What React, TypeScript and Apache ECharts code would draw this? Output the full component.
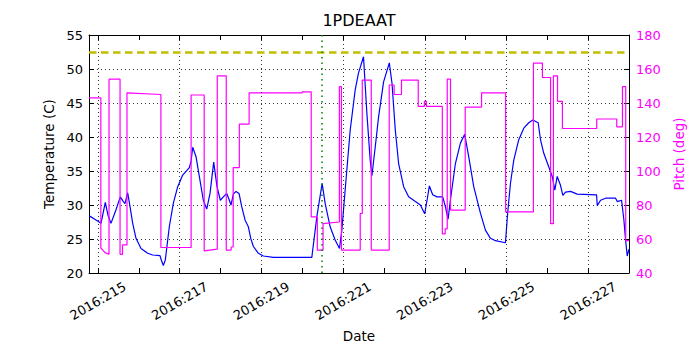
import React, { useEffect, useRef } from "react";
import * as echarts from "echarts";

const tempDays = [214.787, 214.951, 215.074, 215.179, 215.245, 215.318, 215.441, 215.546, 215.62, 215.661,
  215.727, 215.784, 215.85, 215.931, 216.053, 216.217, 216.34, 216.518, 216.55, 216.6,
  216.648, 216.746, 216.844, 216.952, 217.074, 217.236, 217.278, 217.319, 217.4, 217.481,
  217.579, 217.662, 217.743, 217.833, 217.914, 217.995, 218.069, 218.152, 218.216, 218.257,
  218.314, 218.38, 218.453, 218.519, 218.6, 218.681, 218.74, 218.804, 218.926, 219.049,
  219.294, 220.235, 220.358, 220.488, 220.561, 220.684, 220.806, 220.912, 220.97, 221.051,
  221.174, 221.296, 221.377, 221.5, 221.583, 221.664, 221.706, 221.789, 221.87, 221.992,
  222.132, 222.198, 222.279, 222.36, 222.483, 222.605, 222.77, 222.892, 222.998, 223.056,
  223.113, 223.194, 223.301, 223.439, 223.505, 223.571, 223.627, 223.75, 223.873, 223.978,
  224.076, 224.199, 224.363, 224.485, 224.608, 224.73, 224.975, 225.032, 225.098, 225.179,
  225.301, 225.424, 225.546, 225.644, 225.777, 225.833, 225.914, 226.037, 226.12, 226.184,
  226.242, 226.323, 226.38, 226.446, 226.569, 226.733, 227.206, 227.223, 227.304, 227.426,
  227.671, 227.712, 227.818, 227.875, 227.916, 227.957, 228.0];

const tempValues = [28.4, 27.8, 27.3, 30.4, 28.5, 27.3, 29.3, 31.2, 30.5, 30.2,
  31.8, 29.75, 27.3, 25.1, 23.6, 22.9, 22.65, 22.55, 21.9, 21.1,
  21.9, 26.8, 30.25, 32.7, 34.4, 35.5, 36.4, 38.5, 37.1, 34.2,
  30.7, 29.4, 31.7, 36.3, 32.7, 30.7, 31.2, 31.7, 30.7, 30.0,
  31.6, 32.0, 31.7, 29.75, 27.8, 26.8, 25.1, 23.9, 22.9, 22.5,
  22.3, 22.3, 28.3, 33.2, 30.25, 26.8, 24.85, 23.6, 26.3, 32.2,
  41, 46.9, 49.4, 51.8, 43.5, 36.6, 34.3, 38.6, 43, 48.1,
  50.9, 47.9, 41, 36.1, 32.7, 31.2, 30.5, 30.0, 28.7, 30.7,
  32.8, 31.5, 31.2, 31.2, 29.75, 27.9, 30.7, 36.1, 39.1, 40.4,
  37.1, 32.7, 28.8, 26.3, 25.1, 24.75, 24.45, 29, 33.2, 36.6,
  39.6, 41.3, 42.1, 42.5, 42.1, 39.6, 37.6, 35.6, 34.2, 32.2,
  34.2, 32.9, 31.4, 31.9, 32.0, 31.6, 31.5, 29.9, 30.7, 31.0,
  31.0, 30.5, 30.7, 27.8, 24.85, 22.5, 23.5];

const pitchDays = [214.78, 215.07, 215.07, 215.12, 215.17, 215.27, 215.27, 215.54, 215.54, 215.6,
  215.6, 215.71, 215.71, 216.54, 216.54, 217.28, 217.28, 217.6, 217.6, 217.92,
  217.92, 218.14, 218.14, 218.26, 218.26, 218.31, 218.31, 218.46, 218.46, 218.7,
  218.7, 220.0, 220.0, 220.22, 220.22, 220.37, 220.37, 220.51, 220.51, 220.91,
  220.91, 220.96, 220.96, 221.42, 221.42, 221.47, 221.47, 221.69, 221.69, 222.13,
  222.13, 222.25, 222.25, 222.43, 222.43, 222.84, 222.84, 222.99, 222.99, 223.04,
  223.04, 223.43, 223.43, 223.5, 223.5, 223.55, 223.55, 223.63, 223.63, 223.99,
  223.99, 224.39, 224.39, 224.98, 224.98, 225.66, 225.66, 225.88, 225.88, 226.08,
  226.08, 226.15, 226.15, 226.25, 226.25, 226.37, 226.37, 227.21, 227.21, 227.7,
  227.7, 227.84, 227.84, 227.92, 227.92, 228.0];

const pitchValues = [143, 143, 54.7, 53.5, 52, 51, 154, 154, 51, 51,
  56.5, 56.5, 146, 145, 55, 55, 144.7, 144.7, 53, 54,
  156, 156, 53.5, 53.5, 55.3, 55.3, 102, 102, 127.6, 127.6,
  146, 146, 146.6, 146.6, 73, 73, 53.5, 53.5, 69, 70,
  149.6, 149.6, 53.5, 53.5, 75, 75, 153.5, 153.5, 53.5, 53.5,
  150.6, 150.6, 145, 145, 153.5, 153.5, 138, 138, 141, 141,
  138, 138, 63, 63, 66, 66, 154, 154, 77, 77,
  137.6, 137.6, 146, 146, 76, 76, 163.5, 163.5, 155, 155,
  69, 69, 156, 156, 141, 141, 125, 125, 130.6, 130.6,
  126, 126, 149.6, 149.6, 59, 59];

const tickDays = [215, 216, 217, 218, 219, 220, 221, 222, 223, 224, 225, 226, 227, 228];
const labelDays = [215, 217, 219, 221, 223, 225, 227];
const xMin = 214.78;
const xMax = 228.0;
const tempLimit = 52.5;
const eventDay = 220.49;

const FONT = "DejaVu Sans";

export default function App() {
  const ref = useRef<HTMLDivElement>(null);
  useEffect(() => {
    if (!ref.current) return;
    const chart = echarts.init(ref.current, null, { renderer: "svg" });
    const tempData = tempDays.map((d, i) => [d, tempValues[i]]);
    const pitchData = pitchDays.map((d, i) => [d, pitchValues[i]]);
    const tickCommon = { show: true, inside: true, length: 5, lineStyle: { color: "#000", width: 1 } };
    chart.setOption({
      animation: false,
      backgroundColor: "#fff",
      title: {
        text: "1PDEAAT",
        left: 359,
        top: 12,
        padding: 0,
        textAlign: "center",
        textStyle: { fontFamily: FONT, fontSize: 16, fontWeight: "normal", color: "#000" },
      },
      grid: { left: 89, right: 71, top: 35, bottom: 77 },
      xAxis: [
        {
          type: "value",
          min: xMin,
          max: xMax,
          position: "bottom",
          name: "Date",
          nameLocation: "middle",
          nameGap: 54,
          nameTextStyle: { fontFamily: FONT, fontSize: 13.5, color: "#000" },
          axisLine: { show: true, onZero: false, lineStyle: { color: "#000", width: 1 } },
          axisTick: { ...tickCommon, customValues: tickDays },
          axisLabel: {
            customValues: labelDays,
            formatter: (v: number) => "2016:" + Math.round(v),
            rotate: 30,
            align: "center",
            verticalAlign: "middle",
            margin: 28,
            fontFamily: FONT,
            fontSize: 13,
            color: "#000",
          },
          splitLine: { show: false },
        },
        {
          type: "value",
          min: xMin,
          max: xMax,
          position: "top",
          axisLine: { show: true, onZero: false, lineStyle: { color: "#000", width: 1 } },
          axisTick: { ...tickCommon, customValues: tickDays },
          axisLabel: { show: false },
          splitLine: { show: false },
        },
      ],
      yAxis: [
        {
          type: "value",
          min: 20,
          max: 55,
          interval: 5,
          position: "left",
          name: "Temperature (C)",
          nameLocation: "middle",
          nameGap: 30,
          nameTextStyle: { fontFamily: FONT, fontSize: 13.5, color: "#000" },
          axisLine: { show: true, onZero: false, lineStyle: { color: "#000", width: 1 } },
          axisTick: tickCommon,
          axisLabel: { fontFamily: FONT, fontSize: 13, color: "#000", margin: 6 },
          splitLine: { show: true, lineStyle: { color: "#000", width: 0.8, type: [1, 3] } },
        },
        {
          type: "value",
          min: 40,
          max: 180,
          interval: 20,
          position: "right",
          name: "Pitch (deg)",
          nameLocation: "middle",
          nameGap: 36,
          nameTextStyle: { fontFamily: FONT, fontSize: 13.5, color: "#ff00ff" },
          axisLine: { show: true, onZero: false, lineStyle: { color: "#000", width: 1 } },
          axisTick: tickCommon,
          axisLabel: { fontFamily: FONT, fontSize: 13, color: "#ff00ff", margin: 7 },
          splitLine: { show: false },
        },
      ],
      series: [
        {
          type: "line",
          name: "grid",
          data: [tempData[0]],
          symbol: "none",
          lineStyle: { opacity: 0 },
          silent: true,
          z: 1,
          markLine: {
            silent: true,
            symbol: ["none", "none"],
            label: { show: false },
            lineStyle: { color: "#000", width: 0.8, type: [1, 3] },
            data: labelDays.map((d) => ({ xAxis: d })),
          },
        },
        {
          type: "line",
          name: "Temperature",
          data: tempData,
          symbol: "none",
          lineStyle: { color: "#0000ff", width: 1.2 },
          z: 3,
          markLine: {
            silent: true,
            symbol: ["none", "none"],
            label: { show: false },
            data: [
              { yAxis: tempLimit, lineStyle: { color: "#bfbf00", width: 2.5, type: [7.5, 4.5] } },
              { xAxis: eventDay, lineStyle: { color: "#008000", width: 1.5, type: [1.5, 4] } },
            ],
          },
        },
        {
          type: "line",
          name: "Pitch",
          yAxisIndex: 1,
          data: pitchData,
          symbol: "none",
          lineStyle: { color: "#ff00ff", width: 1.2 },
          z: 4,
        },
      ],
    });
    return () => chart.dispose();
  }, []);
  return (
    <div
      ref={ref}
      style={{ position: "absolute", left: 0, top: 0, width: 700, height: 350, background: "#fff" }}
    />
  );
}
